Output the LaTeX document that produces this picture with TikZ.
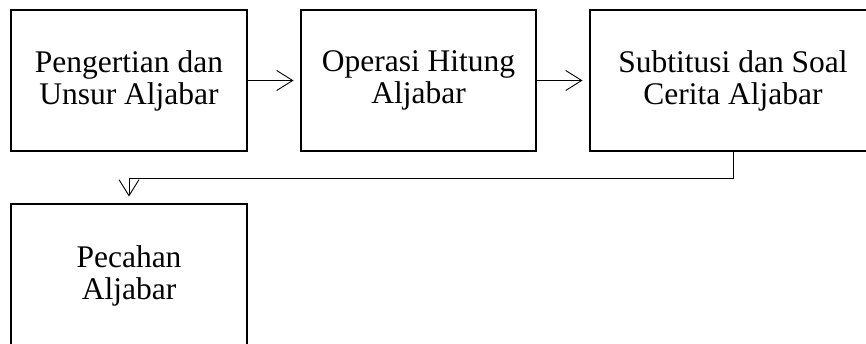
\documentclass[tikz,border=0pt]{standalone}
\usepackage{fontspec}
\setmainfont{Liberation Serif}
\usetikzlibrary{arrows.meta,positioning}

\begin{document}
\begin{tikzpicture}[x=1pt,y=-1pt,
    box/.style={draw,line width=2.5pt,rectangle,align=center,inner sep=0pt,outer sep=0pt,
        minimum width=236pt,minimum height=141pt,font=\fontsize{31.5}{32}\selectfont},
    link/.style={line width=0.9pt,-{Straight Barb[length=16pt,width=20pt]},shorten >=7.5pt}]
\useasboundingbox (0,0) rectangle (866,343);
\clip (0,0) rectangle (866,343);
\node[box] (unsur) at (129,80.5) {Pengertian dan\\Unsur Aljabar};
\node[box,minimum width=235pt] (operasi) at (418.5,80.5) {Operasi Hitung\\Aljabar};
\node[box,minimum width=286pt] (subst) at (733,80.5) {Subtitusi dan Soal\\Cerita Aljabar};
\node[box,minimum height=143pt] (pecahan) at (129,275.5) {Pecahan\\Aljabar};
\draw[link] (unsur) -- (operasi);
\draw[link] (operasi) -- (subst);
\draw[link] (subst.south) -- ++(0,27) -| (pecahan.north);
\end{tikzpicture}
\end{document}
